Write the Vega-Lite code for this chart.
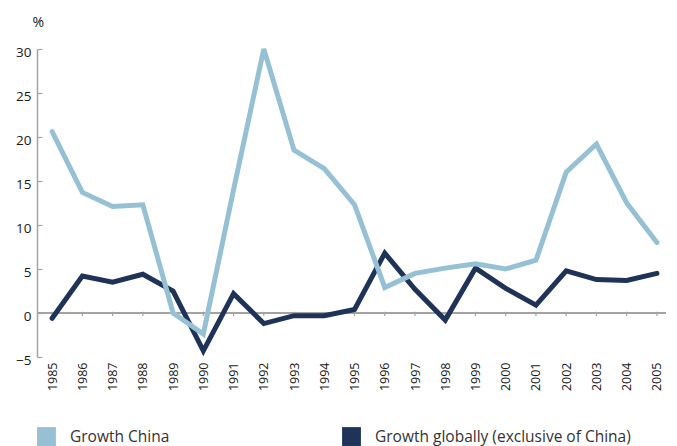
{
  "$schema": "https://vega.github.io/schema/vega-lite/v6.json",
  "width": 629,
  "height": 308,
  "autosize": {"type": "none"},
  "padding": {"left": 37, "top": 49, "right": 11, "bottom": 89},
  "background": "white",
  "config": {
    "view": {"stroke": null},
    "font": "Open Sans",
    "axis": {"labelFont": "Open Sans", "titleFont": "Open Sans", "labelColor": "#1a1a1a", "grid": false}
  },
  "data": {
    "values": [
      {"year": 1985, "series": "Growth China", "value": 20.6},
      {"year": 1986, "series": "Growth China", "value": 13.7},
      {"year": 1987, "series": "Growth China", "value": 12.1},
      {"year": 1988, "series": "Growth China", "value": 12.3},
      {"year": 1989, "series": "Growth China", "value": 0.0},
      {"year": 1990, "series": "Growth China", "value": -2.4},
      {"year": 1991, "series": "Growth China", "value": 14.0},
      {"year": 1992, "series": "Growth China", "value": 30.0},
      {"year": 1993, "series": "Growth China", "value": 18.5},
      {"year": 1994, "series": "Growth China", "value": 16.4},
      {"year": 1995, "series": "Growth China", "value": 12.3},
      {"year": 1996, "series": "Growth China", "value": 2.9},
      {"year": 1997, "series": "Growth China", "value": 4.5},
      {"year": 1998, "series": "Growth China", "value": 5.1},
      {"year": 1999, "series": "Growth China", "value": 5.6},
      {"year": 2000, "series": "Growth China", "value": 5.0},
      {"year": 2001, "series": "Growth China", "value": 6.0},
      {"year": 2002, "series": "Growth China", "value": 16.0},
      {"year": 2003, "series": "Growth China", "value": 19.2},
      {"year": 2004, "series": "Growth China", "value": 12.5},
      {"year": 2005, "series": "Growth China", "value": 8.0},
      {"year": 1985, "series": "Growth globally (exclusive of China)", "value": -0.6},
      {"year": 1986, "series": "Growth globally (exclusive of China)", "value": 4.2},
      {"year": 1987, "series": "Growth globally (exclusive of China)", "value": 3.5},
      {"year": 1988, "series": "Growth globally (exclusive of China)", "value": 4.4},
      {"year": 1989, "series": "Growth globally (exclusive of China)", "value": 2.5},
      {"year": 1990, "series": "Growth globally (exclusive of China)", "value": -4.3},
      {"year": 1991, "series": "Growth globally (exclusive of China)", "value": 2.2},
      {"year": 1992, "series": "Growth globally (exclusive of China)", "value": -1.2},
      {"year": 1993, "series": "Growth globally (exclusive of China)", "value": -0.3},
      {"year": 1994, "series": "Growth globally (exclusive of China)", "value": -0.3},
      {"year": 1995, "series": "Growth globally (exclusive of China)", "value": 0.4},
      {"year": 1996, "series": "Growth globally (exclusive of China)", "value": 6.8},
      {"year": 1997, "series": "Growth globally (exclusive of China)", "value": 2.7},
      {"year": 1998, "series": "Growth globally (exclusive of China)", "value": -0.8},
      {"year": 1999, "series": "Growth globally (exclusive of China)", "value": 5.1},
      {"year": 2000, "series": "Growth globally (exclusive of China)", "value": 2.8},
      {"year": 2001, "series": "Growth globally (exclusive of China)", "value": 0.9},
      {"year": 2002, "series": "Growth globally (exclusive of China)", "value": 4.8},
      {"year": 2003, "series": "Growth globally (exclusive of China)", "value": 3.8},
      {"year": 2004, "series": "Growth globally (exclusive of China)", "value": 3.7},
      {"year": 2005, "series": "Growth globally (exclusive of China)", "value": 4.5}
    ]
  },
  "encoding": {
    "x": {
      "field": "year",
      "type": "quantitative",
      "scale": {"domain": [1984.5, 2005.3], "nice": false, "zero": false},
      "axis": {
        "title": null,
        "values": [1985, 1986, 1987, 1988, 1989, 1990, 1991, 1992, 1993, 1994, 1995, 1996, 1997, 1998, 1999, 2000, 2001, 2002, 2003, 2004, 2005],
        "format": "d",
        "labelAngle": -90,
        "labelFontSize": 12.5,
        "labelPadding": 5,
        "domain": false,
        "ticks": false,
        "labelFlush": false,
        "labelOverlap": false
      }
    }
  },
  "layer": [
    {
      "mark": {"type": "rule", "color": "#a3a3a3", "strokeWidth": 1.5},
      "encoding": {"x": null, "y": {"datum": 0, "type": "quantitative"}}
    },
    {
      "transform": [{"filter": "datum.series === 'Growth China'"}],
      "mark": {"type": "rule", "color": "#a3a3a3", "strokeWidth": 1.2},
      "encoding": {
        "y": {"datum": 0.15, "type": "quantitative"},
        "y2": {"datum": -0.35}
      }
    },
    {
      "transform": [{"filter": "datum.series !== 'Growth China'"}],
      "mark": {"type": "line", "strokeWidth": 5, "strokeJoin": "miter", "strokeCap": "round"},
      "encoding": {
        "y": {"field": "value", "type": "quantitative"},
        "color": {"field": "series", "type": "nominal"}
      }
    },
    {
      "transform": [{"filter": "datum.series === 'Growth China'"}],
      "mark": {"type": "line", "strokeWidth": 5, "strokeJoin": "miter", "strokeCap": "round"},
      "encoding": {
        "y": {
          "field": "value",
          "type": "quantitative",
          "scale": {"domain": [-5, 30], "nice": false},
          "axis": {
            "title": "%",
            "titleAngle": 0,
            "titleAlign": "left",
            "titleBaseline": "alphabetic",
            "titleX": -5,
            "titleY": -23,
            "titleFontSize": 14,
            "titleFontWeight": "normal",
            "titleColor": "#1a1a1a",
            "values": [-5, 0, 5, 10, 15, 20, 25, 30],
            "labelFontSize": 13.5,
            "labelPadding": 11,
            "labelOffset": 3,
            "domainColor": "#a3a3a3",
            "domainWidth": 1.5,
            "tickColor": "#a3a3a3",
            "tickSize": -5,
            "tickWidth": 1.2
          }
        },
        "color": {
          "field": "series",
          "type": "nominal",
          "scale": {"domain": ["Growth China", "Growth globally (exclusive of China)"], "range": ["#96c0d3", "#1f3358"]},
          "legend": {
            "title": null,
            "orient": "bottom",
            "direction": "horizontal",
            "symbolType": "square",
            "symbolSize": 355,
            "symbolStrokeWidth": 0,
            "labelFontSize": 15.5,
            "labelColor": "#333333",
            "labelOffset": 14,
            "columnPadding": 172,
            "offset": 36,
            "labelLimit": 400,
            "encode": {
              "symbols": {
                "update": {
                  "fill": {"scale": "color", "field": "value"},
                  "fillOpacity": {"value": 1},
                  "strokeWidth": {"value": 0}
                }
              }
            }
          }
        }
      }
    }
  ]
}
